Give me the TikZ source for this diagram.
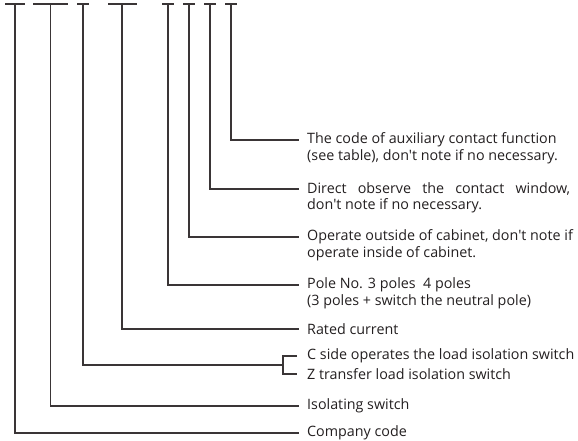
\documentclass[tikz,border=0pt]{standalone}
\usepackage{fontspec}
\setmainfont{Open Sans}[Ligatures=TeXOff]
\definecolor{linec}{HTML}{3A3536}
\definecolor{textc}{HTML}{231F20}
\begin{document}
\begin{tikzpicture}[x=1pt,y=-1pt,
  lead/.style={draw=linec,line width=1.15pt},
  desc/.style={anchor=west,inner sep=0pt,text=textc,font=\fontsize{14.3}{16}\selectfont},
  bar/.style={draw=linec,line width=1.15pt}]
\useasboundingbox (0,0) rectangle (578,440);
% top bars
\foreach \n/\a/\b/\s in {1/5/25/15, 2/33/68/50.5, 3/77/89/83, 4/108/137/122, 5/162/174/168, 6/183/195/189, 7/204/216/210, 8/225/237/231}{
  \draw[bar] (\a,4) -- (\b,4);
  \coordinate (s\n) at (\s,4);
}
% descriptions
\node[desc] (t8a) at (307,140) {The code of auxiliary contact function};
\node[desc] (t8b) at (307,157) {(see table), don't note if no necessary.};
\node[desc] (t7a) at (307,189) {\makebox[263pt][s]{Direct observe the contact window,}};
\node[desc] (t7b) at (307,206) {don't note if no necessary.};
\node[desc] (t6a) at (307,237) {Operate outside of cabinet, don't note if};
\node[desc] (t6b) at (307,254) {operate inside of cabinet.};
\node[desc] (t5a) at (307,285) {Pole No. 3 poles\ \ 4 poles};
\node[desc] (t5b) at (307,302) {(3 poles + switch the neutral pole)};
\node[desc] (t4) at (307,329) {Rated current};
\node[desc] (t3a) at (307,356) {C side operates the load isolation switch};
\node[desc] (t3b) at (307,374) {Z transfer load isolation switch};
\node[desc] (t2) at (307,406) {Isolating switch};
\node[desc] (t1) at (307,433) {Company code};
% leaders
\draw[lead] (s8) |- ([xshift=-8pt]t8a.west);
\draw[lead] (s7) |- ([xshift=-8pt]t7a.west);
\draw[lead] (s6) |- ([xshift=-8pt]t6a.west);
\draw[lead] (s5) |- ([xshift=-8pt]t5a.west);
\draw[lead] (s4) |- ([xshift=-8pt]t4.west);
\coordinate (br3) at (283,365);
\draw[lead] (s3) |- (br3);
\draw[lead] ([xshift=-10pt]t3a.west) -| (br3) |- ([xshift=-10pt]t3b.west);
\draw[lead] (s2) |- ([xshift=-8pt]t2.west);
\draw[lead] (s1) |- ([xshift=-8pt]t1.west);
\end{tikzpicture}
\end{document}
